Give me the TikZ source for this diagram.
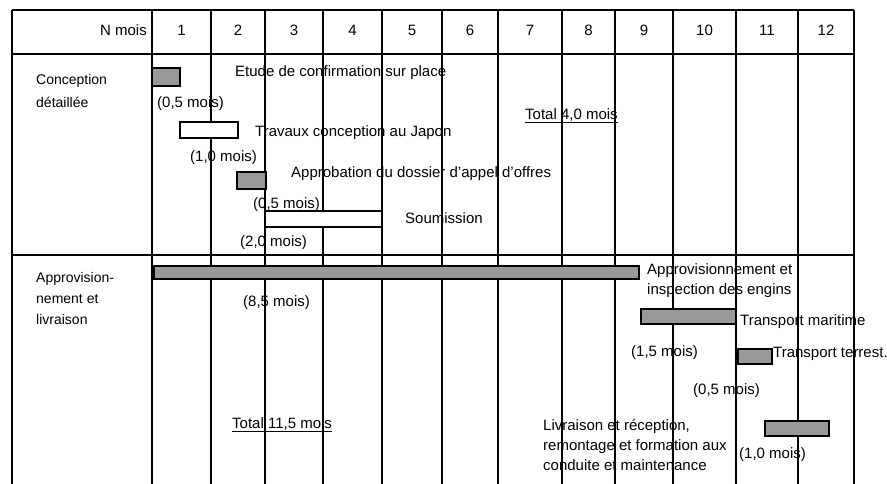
\documentclass[tikz,border=0pt]{standalone}
\usepackage{fontspec}
\setmainfont{Liberation Sans}
\definecolor{barfill}{RGB}{153,153,153}
\tikzset{
  gridline/.style={line width=1.5pt, black},
  ganttbar/.style={line width=1.5pt, draw=black},
  txt/.style={inner sep=0pt, anchor=base west},
  rowlabel/.style={txt, align=left, font=\fontsize{14}{21}\selectfont},
}
\begin{document}
\begin{tikzpicture}[x=1pt, y=-1pt, font=\fontsize{15}{20}\selectfont]
    \useasboundingbox (0,0) rectangle (887,484);
    \draw[gridline] (12,10) -- (854,10);
    \foreach \y in {54,255} {
        \draw[gridline] (12,\y) -- (854,\y);
    }
    \foreach \x in {12,152,211,265,323,382,442,498,562,615,673,736,798,854} {
        \draw[gridline] (\x,10) -- (\x,484);
    }
    \node[txt, anchor=base east] (nmois) at (147,36) {N mois};
    \foreach \xa/\xb [count=\n] in {152/211,211/265,265/323,323/382,382/442,442/498,498/562,562/615,615/673,673/736,736/798,798/854} {
        \node[inner sep=0pt, anchor=base] (m\n) at ({(\xa+\xb)/2},36) {\n};
    }
    \foreach \xa/\ya/\xb/\yb/\fc in {152/68/180/86/barfill, 180/122/238/138/white,
            237/172/266/189/barfill, 265/211/382/227/white, 154/266/639/279/barfill,
            641/309/736/324/barfill, 738/349/772/364/barfill, 765/421/829/436/barfill} {
        \draw[ganttbar, fill=\fc] (\xa,\ya) rectangle (\xb,\yb);
    }

    \node[rowlabel, font=\fontsize{14}{23}\selectfont] (conc) at (36,108) {Conception\\détaillée};
    \node[txt] (etude) at (235,77) {Etude de confirmation sur place};
    \node[txt] (etudeT) at (157,108) {(0,5 mois)};
    \node[txt] (japon) at (255,137) {Travaux conception au Japon};
    \node[txt] (japonT) at (190,162) {(1,0 mois)};
    \node[txt] (appel) at (291,178) {Approbation du dossier d’appel d’offres};
    \node[txt] (appelT) at (253,209) {(0,5 mois)};
    \node[txt] (soum) at (405,224) {Soumission};
    \node[txt] (soumT) at (240,247) {(2,0 mois)};
    \node[txt] (totA) at (525,120) {Total 4,0 mois};
    \draw[line width=1pt] ([yshift=-3pt]totA.base west) -- ([yshift=-3pt]totA.base east);

    \node[rowlabel] (appro) at (36,324) {Approvision-\\nement et\\livraison};
    \node[txt, align=left] (engin) at (647,294) {Approvisionnement et\\inspection des engins};
    \node[txt] (enginT) at (243,306) {(8,5 mois)};
    \node[txt] (mari) at (740,325) {Transport maritime};
    \node[txt] (mariT) at (631,356) {(1,5 mois)};
    \node[txt] (terr) at (773,357) {Transport terrest.};
    \node[txt] (terrT) at (693,394) {(0,5 mois)};
    \node[txt, align=left] (livr) at (543,470) {Livraison et réception,\\remontage et formation aux\\conduite et maintenance};
    \node[txt] (livrT) at (739,458) {(1,0 mois)};
    \node[txt] (totB) at (232,428) {Total 11,5 mois};
    \draw[line width=1pt] ([yshift=-3pt]totB.base west) -- ([yshift=-3pt]totB.base east);
\end{tikzpicture}
\end{document}
